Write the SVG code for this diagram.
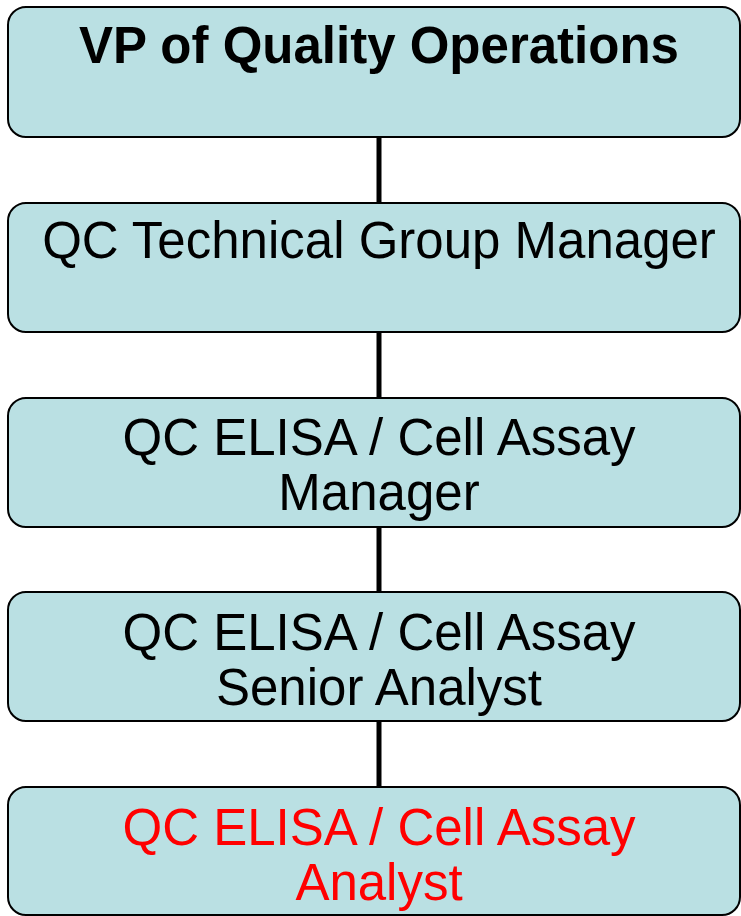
<svg xmlns="http://www.w3.org/2000/svg" width="741" height="916" viewBox="0 0 741 916">
<style>
.box{fill:#BAE0E3;stroke:#000;stroke-width:2}
.t{font-family:"Liberation Sans",Arial,sans-serif;font-size:51px;text-anchor:middle;fill:#000}
.b{font-weight:bold}
.red{fill:#FF0000}
.con{stroke:#000;stroke-width:5;fill:none}
</style>
<g id="connectors">
<line class="con" x1="379" y1="137" x2="379" y2="203"/>
<line class="con" x1="379" y1="332" x2="379" y2="398"/>
<line class="con" x1="379" y1="527" x2="379" y2="592"/>
<line class="con" x1="379" y1="721" x2="379" y2="787"/>
</g>
<g id="n1">
<rect class="box" x="8" y="7" width="732" height="130" rx="18"/>
<text class="t b" x="379" y="63">VP of Quality Operations</text>
</g>
<g id="n2">
<rect class="box" x="8" y="203" width="732" height="129" rx="18"/>
<text class="t" x="379" y="258">QC Technical Group Manager</text>
</g>
<g id="n3">
<rect class="box" x="8" y="398" width="732" height="129" rx="18"/>
<text class="t" x="379" y="455">QC ELISA / Cell Assay</text>
<text class="t" x="379" y="510">Manager</text>
</g>
<g id="n4">
<rect class="box" x="8" y="592" width="732" height="129" rx="18"/>
<text class="t" x="379" y="650">QC ELISA / Cell Assay</text>
<text class="t" x="379" y="705">Senior Analyst</text>
</g>
<g id="n5">
<rect class="box" x="8" y="787" width="732" height="128" rx="18"/>
<text class="t red" x="379" y="845">QC ELISA / Cell Assay</text>
<text class="t red" x="379" y="900">Analyst</text>
</g>
</svg>
